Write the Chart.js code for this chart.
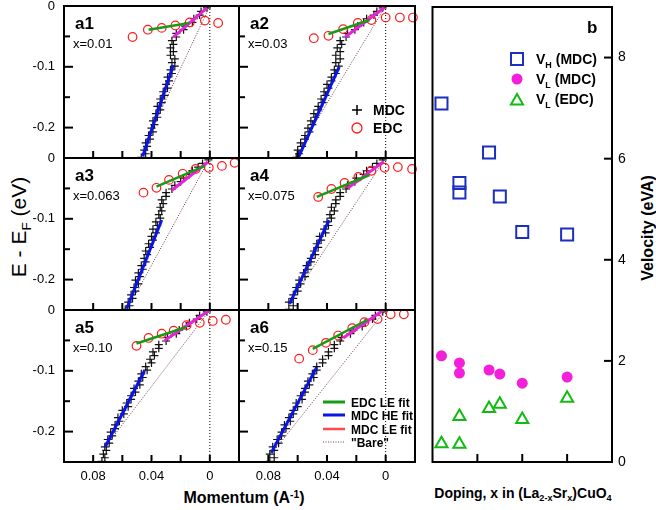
<!DOCTYPE html>
<html>
<head>
<meta charset="utf-8">
<script src="https://cdn.jsdelivr.net/npm/chart.js@4.4.0/dist/chart.umd.min.js"></script>
<style>
  html, body { margin: 0; padding: 0; background: #fff; }
  #page { position: relative; width: 656px; height: 510px; overflow: hidden; font-family: "Liberation Sans", Arial, sans-serif; }
  canvas { position: absolute; }
  .t { position: absolute; color: #000; white-space: nowrap; line-height: 1; }
  .t sub { font-size: 65%; vertical-align: baseline; position: relative; top: 0.35em; line-height: 0; }
  .t sup { font-size: 65%; vertical-align: baseline; position: relative; top: -0.5em; line-height: 0; }
</style>
</head>
<body>
<div id="page">
  <div class="t" style="left:18px;top:227px;font-size:21px;transform:translate(-50%,-50%) rotate(-90deg);">E - E<sub>F</sub> (eV)</div>
  <div class="t" style="left:244px;top:490px;font-size:16px;font-weight:bold;transform:translateX(-50%);">Momentum (A<sup>-1</sup>)</div>
  <div class="t" style="left:523px;top:486px;font-size:14px;font-weight:bold;transform:translateX(-50%);">Doping, x in (La<sub>2-x</sub>Sr<sub>x</sub>)CuO<sub>4</sub></div>
  <div class="t" style="left:648px;top:228px;font-size:16px;font-weight:bold;transform:translate(-50%,-50%) rotate(-90deg);">Velocity (eVA)</div>
</div>
<script>
// ---- panel a: dispersions ----
const panelNames = ["a1", "a2", "a3", "a4", "a5", "a6"];
const dopingLabels = ["x=0.01", "x=0.03", "x=0.063", "x=0.075", "x=0.10", "x=0.15"];

const xTickValues = [0.1, 0.08, 0.06, 0.04, 0.02, 0, -0.02];
const xTickLabels = ["", "0.08", "", "0.04", "", "0", ""];
const yTickValues = [0, -0.05, -0.1, -0.15, -0.2, -0.25];
const yTickLabels = ["0", "", "-0.1", "", "-0.2", ""];

// MDC energies (eV) and the peak momenta (1/A) for each panel
const mdcEnergy = [-0.003, -0.009, -0.015, -0.021, -0.027, -0.033, -0.039, -0.045, -0.051, -0.057,
  -0.063, -0.069, -0.075, -0.081, -0.087, -0.093, -0.099, -0.105, -0.111, -0.117,
  -0.123, -0.129, -0.135, -0.141, -0.147, -0.153, -0.159, -0.165, -0.171, -0.177,
  -0.183, -0.189, -0.195, -0.201, -0.207, -0.213, -0.219, -0.225, -0.231, -0.237,
  -0.243, -0.249];
const mdcA1 = [0.002, 0.006, 0.007, 0.011, 0.012, 0.017, 0.018, 0.023, 0.023, 0.026, 0.025, 0.027, 0.025, 0.027, 0.024, 0.026, 0.024, 0.027, 0.026, 0.029, 0.028, 0.030, 0.029, 0.032, 0.031, 0.034, 0.033, 0.036, 0.034, 0.037, 0.036, 0.039, 0.038, 0.040, 0.039, 0.042, 0.041, 0.044, 0.043, 0.045, 0.044, 0.047];
const mdcA2 = [0.002, 0.006, 0.008, 0.013, 0.015, 0.019, 0.021, 0.026, 0.027, 0.031, 0.030, 0.033, 0.031, 0.034, 0.031, 0.034, 0.032, 0.035, 0.034, 0.037, 0.037, 0.040, 0.039, 0.042, 0.041, 0.044, 0.043, 0.046, 0.046, 0.049, 0.048, 0.051, 0.050, 0.053, 0.052, 0.055, 0.055, 0.058, 0.057, 0.060, 0.059, 0.061];
const mdcA3 = [0.001, 0.005, 0.008, 0.012, 0.014, 0.018, 0.020, 0.024, 0.026, 0.030, 0.030, 0.033, 0.032, 0.034, 0.033, 0.035, 0.034, 0.037, 0.036, 0.039, 0.037, 0.040, 0.039, 0.042, 0.041, 0.044, 0.043, 0.045, 0.044, 0.047, 0.046, 0.049, 0.048, 0.051, 0.049, 0.052, 0.051, 0.054, 0.053, 0.056, 0.055, 0.058];
const mdcA4 = [0.002, 0.006, 0.009, 0.013, 0.015, 0.020, 0.021, 0.026, 0.027, 0.031, 0.031, 0.034, 0.034, 0.037, 0.035, 0.038, 0.037, 0.040, 0.039, 0.042, 0.041, 0.045, 0.044, 0.047, 0.046, 0.049, 0.048, 0.051, 0.051, 0.054, 0.053, 0.056, 0.055, 0.059, 0.058, 0.061, 0.060, 0.063, 0.063, 0.066, 0.063, 0.066];
const mdcA5 = [0.002, 0.007, 0.009, 0.014, 0.016, 0.021, 0.023, 0.029, 0.030, 0.035, 0.035, 0.039, 0.038, 0.041, 0.040, 0.044, 0.043, 0.047, 0.046, 0.049, 0.048, 0.052, 0.051, 0.054, 0.054, 0.057, 0.056, 0.060, 0.059, 0.063, 0.062, 0.065, 0.065, 0.068, 0.067, 0.070, 0.069, 0.072, 0.071, 0.073, 0.072, 0.074];
const mdcA6 = [0.002, 0.007, 0.009, 0.014, 0.016, 0.022, 0.024, 0.030, 0.031, 0.035, 0.035, 0.039, 0.039, 0.043, 0.043, 0.047, 0.047, 0.050, 0.049, 0.053, 0.052, 0.055, 0.055, 0.058, 0.057, 0.061, 0.060, 0.063, 0.063, 0.066, 0.065, 0.069, 0.068, 0.071, 0.071, 0.074, 0.073, 0.077, 0.076, 0.079, 0.076, 0.079];
const mdcPeaks = [mdcA1, mdcA2, mdcA3, mdcA4, mdcA5, mdcA6];

// EDC peaks, [k, E]
const edcPeaks = [
  [[0.053, -0.051], [0.0425, -0.039], [0.033, -0.036], [0.0236, -0.032], [0.0138, -0.027], [0.0034, -0.024], [-0.0057, -0.028]],
  [[0.049, -0.053], [0.039, -0.049], [0.029, -0.038], [0.019, -0.028], [0.0097, -0.023], [0.0, -0.019], [-0.0097, -0.019], [-0.0186, -0.019]],
  [[0.0455, -0.057], [0.0366, -0.049], [0.028, -0.036], [0.0186, -0.026], [0.0097, -0.018], [0.0007, -0.016], [-0.0083, -0.013], [-0.017, -0.008]],
  [[0.046, -0.064], [0.037, -0.051], [0.028, -0.041], [0.0186, -0.031], [0.0097, -0.021], [0.0007, -0.016], [-0.0083, -0.015], [-0.018, -0.018]],
  [[0.0503, -0.059], [0.042, -0.046], [0.033, -0.039], [0.0248, -0.034], [0.0159, -0.025], [0.0069, -0.021], [-0.002, -0.018], [-0.011, -0.016]],
  [[0.059, -0.08], [0.0497, -0.066], [0.0407, -0.054], [0.0324, -0.042], [0.0228, -0.03], [0.0145, -0.02], [0.0055, -0.015], [-0.0034, -0.007], [-0.0124, -0.007]]
];

// fit segments, [k, E] end points
const edcLeFit = [
  [[0.042, -0.039], [0.014, -0.028]],
  [[0.039, -0.046], [0.011, -0.023]],
  [[0.0366, -0.047], [0.0034, -0.013]],
  [[0.047, -0.064], [0.011, -0.028]],
  [[0.0503, -0.055], [0.016, -0.028]],
  [[0.0497, -0.064], [0.0124, -0.016]]
];
const mdcLeFit = [
  [[0.002, -0.003], [0.025, -0.051]],
  [[0.001, -0.003], [0.0276, -0.051]],
  [[0.0014, -0.0066], [0.026, -0.053]],
  [[0.0014, -0.006], [0.026, -0.05]],
  [[0.0, 0.0], [0.031, -0.05]],
  [[0.0014, 0.0], [0.029, -0.046]]
];
const mdcHeFit = [
  [[0.025, -0.097], [0.046, -0.247]],
  [[0.0317, -0.1], [0.0593, -0.248]],
  [[0.033, -0.102], [0.057, -0.248]],
  [[0.0386, -0.102], [0.0655, -0.24]],
  [[0.0448, -0.1], [0.0717, -0.225]],
  [[0.047, -0.094], [0.078, -0.235]]
];
const bareBand = [
  [[0.0, 0.0], [0.044, -0.225]],
  [[0.0, 0.0], [0.055, -0.22]],
  [[0.0, 0.0], [0.051, -0.225]],
  [[0.0, 0.0], [0.061, -0.222]],
  [[0.0, 0.0], [0.071, -0.223]],
  [[0.0, 0.0], [0.076, -0.231]]
];

// ---- panel b: velocities ----
const dopingX = [0.01, 0.03, 0.03, 0.063, 0.075, 0.10, 0.15];
const vhMdc = [7.09, 5.52, 5.33, 6.12, 5.25, 4.55, 4.50];
const vlMdc = [2.10, 1.96, 1.76, 1.82, 1.74, 1.56, 1.68];
const vlEdc = [0.36, 0.90, 0.35, 1.06, 1.14, 0.84, 1.26];
const bTickX = [0.05, 0.1, 0.15];
const bTickY = [0, 2, 4, 6, 8];

const GREEN = "#169b16";
const MAGENTA = "#e524d8";
const BLUE = "#0a14e6";
const RED = "#ff1a1a";
const BARE = "#6b3a4a";
const FONT = "'Liberation Sans', Arial, sans-serif";

const page = document.getElementById("page");

const panelRects = [
  { x: 64, y: 6, w: 175, h: 152 }, { x: 239, y: 6, w: 176, h: 152 },
  { x: 64, y: 158, w: 175, h: 152 }, { x: 239, y: 158, w: 176, h: 152 },
  { x: 64, y: 310, w: 175, h: 152 }, { x: 239, y: 310, w: 176, h: 152 }
];

Chart.defaults.color = "#000";
Chart.defaults.font.family = FONT;

function toPoints(pairs) {
  return pairs.map(p => ({ x: p[0], y: p[1] }));
}

function makeCanvas(rect, m) {
  const canvas = document.createElement("canvas");
  canvas.width = rect.w + m.l + m.r;
  canvas.height = rect.h + m.t + m.b;
  canvas.style.left = (rect.x - m.l) + "px";
  canvas.style.top = (rect.y - m.t) + "px";
  page.appendChild(canvas);
  return canvas;
}

function drawMarker(ctx, style, x, y, r) {
  ctx.beginPath();
  if (style === "cross") {
    ctx.moveTo(x - r, y); ctx.lineTo(x + r, y);
    ctx.moveTo(x, y - r); ctx.lineTo(x, y + r);
    ctx.stroke();
  } else if (style === "circle") {
    ctx.arc(x, y, r, 0, Math.PI * 2);
  } else if (style === "rect") {
    ctx.rect(x - r, y - r, 2 * r, 2 * r);
  } else if (style === "triangle") {
    const s = Math.sin(Math.PI / 3) * r;
    ctx.moveTo(x, y - r); ctx.lineTo(x + s, y + r / 2); ctx.lineTo(x - s, y + r / 2); ctx.closePath();
  }
}

function drawSubText(ctx, parts, x, y, size) {
  parts.forEach(([text, sub]) => {
    ctx.font = `bold ${sub ? Math.round(size * 0.65) : size}px ${FONT}`;
    ctx.fillText(text, x, sub ? y + 4 : y);
    x += ctx.measureText(text).width;
  });
}

// frame with inward ticks, drawn over the data
const framePlugin = {
  id: "frame",
  afterDraw(chart, args, opts) {
    const { ctx, chartArea: a, scales } = chart;
    ctx.save();
    ctx.strokeStyle = "#000";
    ctx.lineWidth = 2;
    (opts.xTicks || []).forEach(v => {
      const x = scales.x.getPixelForValue(v);
      ctx.beginPath(); ctx.moveTo(x, a.bottom); ctx.lineTo(x, a.bottom - opts.xLen); ctx.stroke();
    });
    (opts.yTicks || []).forEach((v, i) => {
      const y = scales.y.getPixelForValue(v);
      const len = opts.yMajor && opts.yMajor[i] ? opts.yLen : opts.yMinorLen;
      const x0 = opts.ySide === "right" ? a.right : a.left;
      const dir = opts.ySide === "right" ? -1 : 1;
      ctx.beginPath(); ctx.moveTo(x0, y); ctx.lineTo(x0 + dir * len, y); ctx.stroke();
    });
    ctx.strokeRect(a.left, a.top, a.right - a.left, a.bottom - a.top);
    ctx.restore();
  }
};

const panelTextPlugin = {
  id: "panelText",
  afterDraw(chart, args, opts) {
    const { ctx, chartArea: a } = chart;
    ctx.save();
    ctx.fillStyle = "#000";
    ctx.textBaseline = "alphabetic";
    if (opts.name) {
      ctx.font = `bold 17px ${FONT}`;
      ctx.fillText(opts.name, a.left + 11, a.top + 23);
      ctx.font = `13px ${FONT}`;
      ctx.fillText(opts.doping, a.left + 9, a.top + 42);
    }
    if (opts.legend === "markers") {
      ctx.strokeStyle = "#000"; ctx.lineWidth = 1.5;
      drawMarker(ctx, "cross", a.left + 118, a.top + 104, 5);
      ctx.strokeStyle = RED; ctx.lineWidth = 1.3;
      drawMarker(ctx, "circle", a.left + 118, a.top + 122, 5); ctx.stroke();
      ctx.font = `bold 14px ${FONT}`;
      ctx.fillText("MDC", a.left + 134, a.top + 109);
      ctx.fillText("EDC", a.left + 134, a.top + 127);
    }
    if (opts.legend === "lines") {
      const rows = [
        ["EDC LE fit", GREEN, 3, []],
        ["MDC HE fit", BLUE, 3, []],
        ["MDC LE fit", "#ff4a4a", 2.5, []],
        ['"Bare"', BARE, 1, [1, 1.5]]
      ];
      const ys = [92, 105, 119, 132];
      ctx.font = `bold 12px ${FONT}`;
      rows.forEach((row, i) => {
        const y = a.top + ys[i];
        ctx.strokeStyle = row[1]; ctx.lineWidth = row[2]; ctx.setLineDash(row[3]);
        ctx.beginPath(); ctx.moveTo(a.left + 84, y); ctx.lineTo(a.left + 106, y); ctx.stroke();
        ctx.setLineDash([]);
        ctx.fillText(row[0], a.left + 112, y + 4.5);
      });
    }
    if (opts.legend === "velocity") {
      ctx.font = `bold 17px ${FONT}`;
      ctx.fillText("b", a.right - 25, a.top + 26);
      const mx = a.right - 95;
      ctx.strokeStyle = "#1b2fc2"; ctx.lineWidth = 2;
      drawMarker(ctx, "rect", mx, a.top + 52, 6); ctx.stroke();
      ctx.fillStyle = "#f41fd8";
      drawMarker(ctx, "circle", mx, a.top + 72, 5.5); ctx.fill();
      ctx.strokeStyle = "#11bb11";
      drawMarker(ctx, "triangle", mx, a.top + 94, 7); ctx.stroke();
      ctx.fillStyle = "#000";
      const tx = a.right - 76;
      drawSubText(ctx, [["V", false], ["H", true], [" (MDC)", false]], tx, a.top + 57, 14);
      drawSubText(ctx, [["V", false], ["L", true], [" (MDC)", false]], tx, a.top + 77, 14);
      drawSubText(ctx, [["V", false], ["L", true], [" (EDC)", false]], tx, a.top + 97, 14);
    }
    ctx.restore();
  }
};

function makePanel(i) {
  const m = { l: 60, t: 26, r: 20, b: 32 };
  const leftCol = i % 2 === 0;
  const bottomRow = i >= 4;
  const canvas = makeCanvas(panelRects[i], m);
  const mdc = mdcEnergy.map((e, j) => ({ x: mdcPeaks[i][j], y: e }));

  new Chart(canvas, {
    type: "scatter",
    data: {
      datasets: [
        { data: toPoints(edcLeFit[i]), showLine: true, borderColor: GREEN, borderWidth: 2.5, pointRadius: 0 },
        { data: toPoints(mdcLeFit[i]), showLine: true, borderColor: MAGENTA, borderWidth: 3, pointRadius: 0 },
        { data: toPoints(mdcHeFit[i]), showLine: true, borderColor: BLUE, borderWidth: 3, pointRadius: 0 },
        { data: toPoints(edcPeaks[i]), pointStyle: "circle", pointRadius: 4.3, borderColor: RED, backgroundColor: "rgba(0,0,0,0)", borderWidth: 1.2, clip: 10 },
        { data: mdc, pointStyle: "cross", pointRadius: 4, borderColor: "#111", borderWidth: 1.2 },
        { data: toPoints(bareBand[i]), showLine: true, borderColor: BARE, borderWidth: 1, borderDash: [1, 1.5], pointRadius: 0 },
        { data: [{ x: 0, y: 0 }, { x: 0, y: -0.25 }], showLine: true, borderColor: "#000", borderWidth: 1, borderDash: [1, 2], pointRadius: 0 }
      ]
    },
    options: {
      responsive: false,
      animation: false,
      events: [],
      layout: { padding: { left: 0, top: m.t, right: m.r, bottom: 0 } },
      scales: {
        x: {
          type: "linear", reverse: true, min: -0.02, max: 0.1,
          afterFit: s => { s.height = m.b; },
          afterBuildTicks: s => { s.ticks = xTickValues.map(v => ({ value: v })); },
          ticks: { display: bottomRow, autoSkip: false, maxRotation: 0, padding: 7, font: { size: 13 },
            callback: v => xTickLabels[xTickValues.indexOf(v)] },
          grid: { display: false, drawTicks: false },
          border: { display: false }
        },
        y: {
          type: "linear", min: -0.25, max: 0,
          afterFit: s => { s.width = m.l; },
          afterBuildTicks: s => { s.ticks = yTickValues.map(v => ({ value: v })); },
          ticks: { display: leftCol, autoSkip: false, padding: 9, font: { size: 13 },
            callback: v => yTickLabels[yTickValues.indexOf(v)] },
          grid: { display: false, drawTicks: false },
          border: { display: false }
        }
      },
      plugins: {
        legend: { display: false },
        tooltip: { enabled: false },
        frame: { xTicks: xTickValues, xLen: 7, yTicks: yTickValues, yMajor: yTickLabels.map(l => l !== ""), yLen: 9, yMinorLen: 6, ySide: "left" },
        panelText: { name: panelNames[i], doping: dopingLabels[i], legend: i === 1 ? "markers" : (i === 5 ? "lines" : null) }
      }
    },
    plugins: [framePlugin, panelTextPlugin]
  });
}

function makeVelocityPanel() {
  const m = { l: 10, t: 26, r: 40, b: 30 };
  const rect = { x: 432, y: 7, w: 180, h: 455 };
  const canvas = makeCanvas(rect, m);
  const pts = vals => dopingX.map((x, j) => ({ x, y: vals[j] }));

  new Chart(canvas, {
    type: "scatter",
    data: {
      datasets: [
        { label: "VH (MDC)", data: pts(vhMdc), pointStyle: "rect", pointRadius: 8.5, borderColor: "#1b2fc2", backgroundColor: "rgba(0,0,0,0)", borderWidth: 2 },
        { label: "VL (MDC)", data: pts(vlMdc), pointStyle: "circle", pointRadius: 5.5, borderColor: "#f41fd8", backgroundColor: "#f41fd8", borderWidth: 0 },
        { label: "VL (EDC)", data: pts(vlEdc), pointStyle: "triangle", pointRadius: 7, borderColor: "#11bb11", backgroundColor: "rgba(0,0,0,0)", borderWidth: 2 }
      ]
    },
    options: {
      responsive: false,
      animation: false,
      events: [],
      layout: { padding: { left: m.l, top: m.t, right: 0, bottom: 0 } },
      scales: {
        x: {
          type: "linear", min: 0, max: 0.2,
          afterFit: s => { s.height = m.b; },
          ticks: { display: false },
          grid: { display: false, drawTicks: false },
          border: { display: false }
        },
        y: {
          type: "linear", position: "right", min: 0, max: 9,
          afterFit: s => { s.width = m.r; },
          afterBuildTicks: s => { s.ticks = bTickY.map(v => ({ value: v })); },
          ticks: { autoSkip: false, padding: 6, font: { size: 14 }, callback: v => String(v) },
          grid: { display: false, drawTicks: false },
          border: { display: false }
        }
      },
      plugins: {
        legend: { display: false },
        tooltip: { enabled: false },
        frame: { xTicks: bTickX, xLen: 8, yTicks: bTickY, yMajor: bTickY.map(() => true), yLen: 8, yMinorLen: 8, ySide: "right" },
        panelText: { legend: "velocity" }
      }
    },
    plugins: [framePlugin, panelTextPlugin]
  });
}

panelNames.forEach((name, i) => makePanel(i));
makeVelocityPanel();
</script>
</body>
</html>
